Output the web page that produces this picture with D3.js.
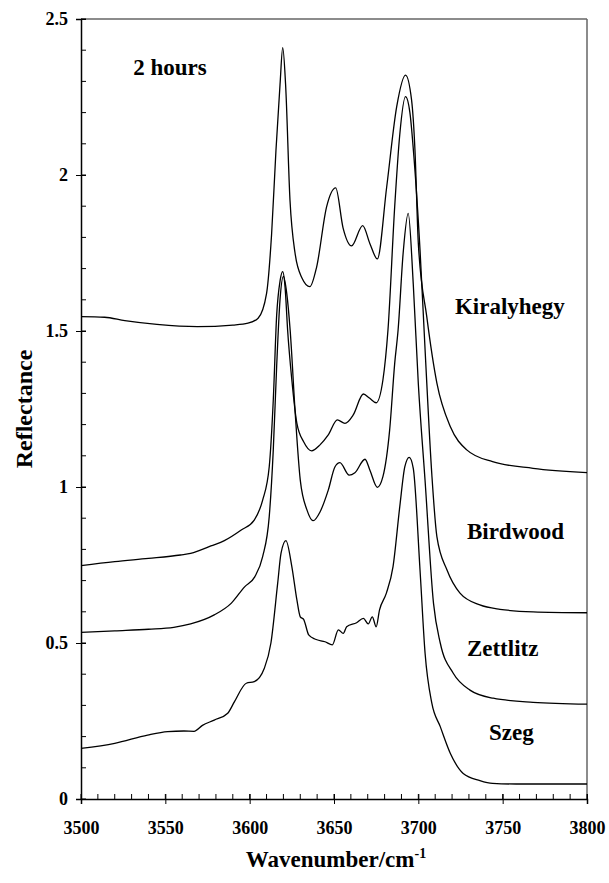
<!DOCTYPE html>
<html>
<head>
<meta charset="utf-8">
<script src="https://cdn.jsdelivr.net/npm/d3@7"></script>
<style>
  body { margin: 0; background: #fff; }
</style>
</head>
<body>
<div id="chart"></div>
<script>
// wavenumber (cm-1), reflectance pairs
const kiralyhegy = [
  [3500, 1.546], [3514, 1.544], [3526, 1.533], [3545, 1.521], [3569, 1.514], [3590, 1.519],
  [3599, 1.525], [3605, 1.541], [3610, 1.62], [3613, 1.81], [3615.6, 2.08], [3618, 2.29],
  [3619.6, 2.408], [3621.3, 2.29], [3623.9, 1.92], [3626.9, 1.75], [3631, 1.67], [3635.7, 1.642],
  [3639.7, 1.705], [3645.6, 1.898], [3651, 1.959], [3655.4, 1.83], [3660.4, 1.773], [3667, 1.838],
  [3671.3, 1.78], [3675.7, 1.731], [3681.2, 1.96], [3687.2, 2.22], [3692.4, 2.32], [3696, 2.24],
  [3698, 2.08], [3700, 1.78], [3705, 1.546], [3711, 1.333], [3719, 1.193], [3728.7, 1.119],
  [3744, 1.081], [3768, 1.06], [3800, 1.046]
];
const birdwood = [
  [3500, 0.748], [3520, 0.761], [3540, 0.771], [3559, 0.782], [3565, 0.787], [3570, 0.796],
  [3577, 0.811], [3585, 0.828], [3595, 0.862], [3602.7, 0.894], [3607.7, 0.958], [3611.6, 1.065],
  [3614, 1.279], [3616, 1.55], [3618, 1.66], [3619.6, 1.69], [3621, 1.64], [3622.5, 1.503],
  [3625, 1.343], [3628, 1.204], [3632, 1.145], [3636.7, 1.116], [3641.7, 1.135], [3646.6, 1.167],
  [3652, 1.215], [3656.5, 1.204], [3661.4, 1.231], [3667.4, 1.298], [3671, 1.285], [3675, 1.27],
  [3679, 1.343], [3682, 1.503], [3686, 1.9], [3689, 2.13], [3692.4, 2.251], [3695, 2.2],
  [3697.5, 2.05], [3701, 1.76], [3704, 1.44], [3708, 1.04], [3711, 0.841], [3717, 0.734],
  [3724.7, 0.66], [3736.5, 0.622], [3748.4, 0.608], [3768, 0.6], [3800, 0.597]
];
const zettlitz = [
  [3500, 0.534], [3520, 0.539], [3540, 0.544], [3555, 0.55], [3565, 0.561], [3579, 0.59],
  [3589, 0.627], [3597, 0.68], [3603, 0.712], [3607.7, 0.777], [3611.6, 0.905], [3614, 1.119],
  [3616, 1.386], [3618, 1.6], [3620, 1.675], [3622, 1.62], [3624, 1.503], [3627, 1.237],
  [3630, 1.022], [3634, 0.926], [3637.7, 0.892], [3641.7, 0.92], [3646.6, 0.99], [3650.6, 1.065],
  [3653.5, 1.078], [3659, 1.038], [3662.4, 1.046], [3668.4, 1.089], [3671.3, 1.054], [3675.7, 0.999],
  [3679, 1.033], [3683, 1.183], [3686, 1.397], [3688, 1.503], [3691, 1.75], [3694, 1.877],
  [3697, 1.65], [3700, 1.33], [3704, 1.02], [3709, 0.627], [3713, 0.5], [3720.7, 0.403],
  [3730.6, 0.349], [3744.4, 0.323], [3768, 0.31], [3800, 0.304]
];
const szeg = [
  [3500, 0.162], [3520, 0.178], [3539.5, 0.205], [3551.4, 0.216], [3561, 0.218], [3567, 0.217],
  [3572, 0.236], [3579, 0.253], [3587, 0.275], [3591, 0.312], [3598, 0.371], [3602.7, 0.376],
  [3608.7, 0.419], [3612.6, 0.5], [3616.6, 0.691], [3618.6, 0.788], [3621.5, 0.828], [3625, 0.745],
  [3628, 0.638], [3630, 0.584], [3632, 0.576], [3635, 0.526], [3639, 0.512], [3644.7, 0.504],
  [3649, 0.494], [3652.6, 0.542], [3655.5, 0.531], [3657.5, 0.552], [3663.4, 0.565], [3667.4, 0.579],
  [3670.3, 0.561], [3672.7, 0.584], [3675, 0.552], [3677, 0.606], [3681, 0.659], [3685, 0.745],
  [3689, 0.937], [3692, 1.065], [3694.6, 1.095], [3697, 1.06], [3701, 0.734], [3704, 0.467],
  [3708, 0.307], [3713, 0.232], [3719, 0.146], [3726.6, 0.082], [3736.5, 0.059], [3744, 0.05],
  [3758, 0.048], [3800, 0.048]
];

const series = [kiralyhegy, birdwood, zettlitz, szeg];
const seriesLabels = [
  { name: 'Kiralyhegy', x: 3721.7, y: 1.554 },
  { name: 'Birdwood', x: 3728.8, y: 0.833 },
  { name: 'Zettlitz', x: 3728.8, y: 0.458 },
  { name: 'Szeg', x: 3741.9, y: 0.189 }
];
const xTicks = [3500, 3550, 3600, 3650, 3700, 3750, 3800];
const yTicks = [0, 0.5, 1, 1.5, 2, 2.5];
const yTickLabels = ['0', '0.5', '1', '1.5', '2', '2.5'];

const width = 609,
  height = 883;
const margin = { top: 19, right: 22, bottom: 84, left: 81 };
const plotW = width - margin.left - margin.right;
const plotH = height - margin.top - margin.bottom;
const serif = '"Liberation Serif", serif';

const svg = d3.select('#chart').append('svg').attr('width', width).attr('height', height);
const g = svg.append('g').attr('transform', `translate(${margin.left},${margin.top})`);

const x = d3.scaleLinear().domain([3500, 3800]).range([0, plotW]);
const y = d3.scaleLinear().domain([0, 2.5]).range([plotH, 0]);

// frame top and right
g.append('line').attr('x1', 0).attr('x2', plotW).attr('y1', 0).attr('y2', 0)
  .attr('stroke', '#666').attr('stroke-width', 1.5);
g.append('line').attr('x1', plotW).attr('x2', plotW).attr('y1', 0).attr('y2', plotH)
  .attr('stroke', '#666').attr('stroke-width', 1.5);

// minor ticks (inside)
g.append('g').selectAll('line')
  .data(d3.range(3500, 3801, 10))
  .join('line')
  .attr('x1', (d) => x(d)).attr('x2', (d) => x(d))
  .attr('y1', plotH).attr('y2', plotH - 5)
  .attr('stroke', '#000').attr('stroke-width', 1);
g.append('g').selectAll('line')
  .data(d3.range(0, 26).map((i) => i / 10))
  .join('line')
  .attr('x1', 0).attr('x2', 5)
  .attr('y1', (d) => y(d)).attr('y2', (d) => y(d))
  .attr('stroke', '#000').attr('stroke-width', 1);

// axes with crossing major ticks
const xAxis = g.append('g').attr('transform', `translate(0,${plotH})`)
  .call(d3.axisBottom(x).tickValues(xTicks).tickSize(5).tickPadding(17).tickFormat(d3.format('d')));
const yAxis = g.append('g')
  .call(d3.axisLeft(y).tickValues(yTicks).tickSize(5).tickPadding(8).tickFormat((d, i) => yTickLabels[i]));
[xAxis, yAxis].forEach((a) => {
  a.attr('font-family', null).attr('font-size', null);
  a.select('.domain').attr('stroke', '#000').attr('stroke-width', 1.5);
  a.selectAll('.tick line').attr('stroke', '#000').attr('stroke-width', 1);
  a.selectAll('text')
    .style('font-family', serif)
    .style('font-weight', 'bold')
    .style('font-size', '18px')
    .attr('fill', '#000');
});
xAxis.selectAll('.tick').append('line').attr('y1', 0).attr('y2', -5).attr('stroke', '#000');
yAxis.selectAll('.tick').append('line').attr('x1', 0).attr('x2', 5).attr('stroke', '#000');

// spectra
const line = d3.line()
  .x((d) => x(d[0]))
  .y((d) => y(d[1]))
  .curve(d3.curveMonotoneX);

g.append('g').selectAll('path')
  .data(series)
  .join('path')
  .attr('d', line)
  .attr('fill', 'none')
  .attr('stroke', '#000')
  .attr('stroke-width', 1.3);

function label(sel, size) {
  return sel.style('font-family', serif).style('font-weight', 'bold').style('font-size', size + 'px').attr('fill', '#000');
}

g.append('g').selectAll('text')
  .data(seriesLabels)
  .join('text')
  .attr('x', (d) => x(d.x))
  .attr('y', (d) => y(d.y))
  .call(label, 23)
  .text((d) => d.name);

g.append('text')
  .attr('x', x(3531))
  .attr('y', y(2.32))
  .call(label, 23)
  .text('2 hours');

// axis titles
svg.append('text')
  .attr('transform', `translate(32,${margin.top + plotH / 2}) rotate(-90)`)
  .attr('text-anchor', 'middle')
  .call(label, 24)
  .text('Reflectance');

const xt = svg.append('text')
  .attr('x', 336)
  .attr('y', 867)
  .attr('text-anchor', 'middle')
  .call(label, 23);
xt.append('tspan').text('Wavenumber/cm');
xt.append('tspan').attr('dy', -9).style('font-size', '14px').text('-1');
</script>
</body>
</html>
